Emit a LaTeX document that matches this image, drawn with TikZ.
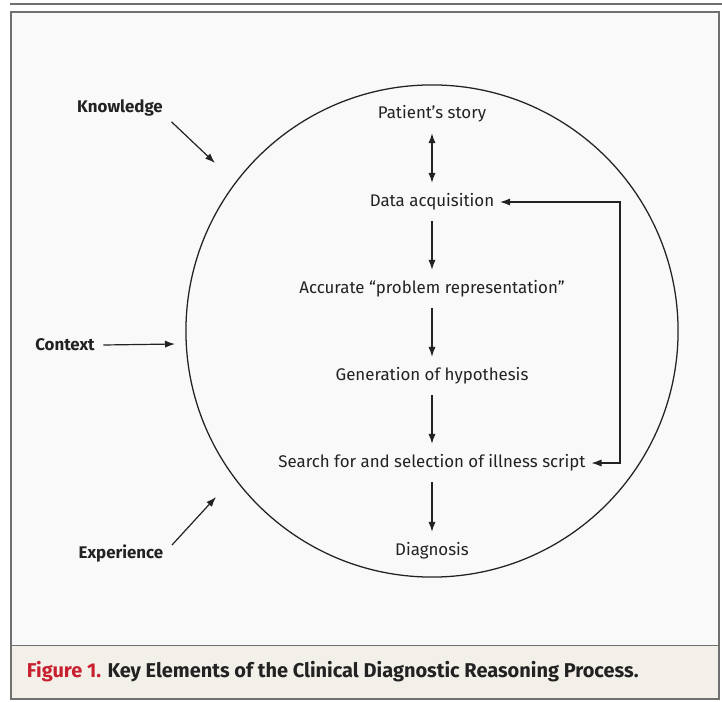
\documentclass[tikz,border=0pt]{standalone}
\usepackage{fontspec}
\setmainfont{Fira Sans}
\usetikzlibrary{arrows.meta}

\definecolor{framegray}{HTML}{707070}
\definecolor{panelgray}{HTML}{F9F9F9}
\definecolor{capbeige}{HTML}{F3F0EA}
\definecolor{figred}{HTML}{C8202F}
\definecolor{inkgray}{HTML}{222222}

\tikzset{
  stage/.style={font=\fontsize{12}{14}\selectfont, text=inkgray, inner xsep=4pt, inner ysep=7.5pt},
  factor/.style={font=\bfseries\fontsize{12}{14}\selectfont, text=inkgray, inner sep=6pt},
  flow/.style={line width=0.85pt, draw=inkgray, -{Latex[length=0.25cm,width=0.18cm]}},
  twoway/.style={line width=0.85pt, draw=inkgray, {Latex[length=0.25cm,width=0.18cm]}-{Latex[length=0.25cm,width=0.18cm]}}
}

\begin{document}
\begin{tikzpicture}[x=0.025cm, y=-0.025cm]

	\useasboundingbox (0,0) rectangle (722,702);

	\draw[framegray, line width=1.5pt] (10,4) -- (722,4);
	\fill[panelgray] (11,12) rectangle (719,699);
	\fill[capbeige] (11,645) rectangle (719,699);
	\draw[framegray] (11,645) -- (719,645);
	\draw[framegray, line width=1.4pt] (11,12) rectangle (719,699);

	\node[draw=inkgray, line width=0.9pt, circle, minimum size=12.3cm] (mind) at (432,331) {};

	\node[stage] (story) at (432,114) {Patient’s story};
	\node[stage] (data) at (432,202) {Data acquisition};
	\node[stage] (repr) at (432,289) {Accurate ``problem representation''};
	\node[stage] (hyp) at (432,376) {Generation of hypothesis};
	\node[stage] (search) at (432,463) {Search for and selection of illness script};
	\node[stage] (diag) at (432,551) {Diagnosis};

	\node[factor] (know) at (120,108) {Knowledge};
	\node[factor] (ctx) at (65,345) {Context};
	\node[factor] (exp) at (121,554) {Experience};

	\coordinate (knowend) at (215,163);
	\coordinate (ctxend) at (175,344);
	\coordinate (expend) at (216,497);
	\coordinate (loop) at (620,0);

	\draw[twoway] (story) -- (data);
	\draw[flow] (data) -- (repr);
	\draw[flow] (repr) -- (hyp);
	\draw[flow] (hyp) -- (search);
	\draw[flow] (search) -- (diag);
	\draw[twoway] (data.east) -| (loop |- search.east) -- (search.east);

	\draw[flow] (know.-15) -- (knowend);
	\draw[flow] (ctx.east) -- (ctxend);
	\draw[flow] (exp.10) -- (expend);

	\node[anchor=west, font=\bfseries\fontsize{14.2}{17}\selectfont, text=inkgray] (caption) at (22,672)
		{\textcolor{figred}{Figure 1.} Key Elements of the Clinical Diagnostic Reasoning Process.};

\end{tikzpicture}
\end{document}
